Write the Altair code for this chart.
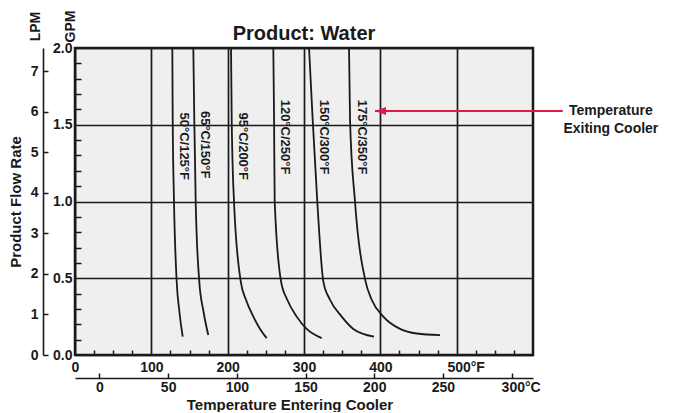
import altair as alt
import numpy as np
import pandas as pd

# ---------------- data ----------------
title_text = "Product: Water"
curve_labels = ["50°C/125°F", "65°C/150°F", "95°C/200°F",
                "120°C/250°F", "150°C/300°F", "175°C/350°F"]
# temperature entering cooler (°F) along each curve
curve_F = [
    [127.5, 128.0, 129.7, 133.2, 136.6, 141.1],
    [155.0, 156.3, 158.1, 162.8, 168.1, 174.6],
    [204.4, 205.3, 208.3, 217.1, 224.0, 233.6, 242.4, 251.1],
    [259.8, 260.8, 261.6, 269.9, 278.1, 290.4, 303.5, 323.2],
    [306.6, 311.4, 317.4, 325.3, 334.1, 349.4, 364.6, 391.7],
    [359.0, 360.3, 366.8, 380.6, 388.7, 403.9, 425.8, 447.7, 478.2],
]
# product flow rate (GPM) along each curve
curve_gpm = [
    [2.0, 1.53, 1.0, 0.48, 0.29, 0.12],
    [2.0, 1.53, 1.0, 0.48, 0.29, 0.13],
    [2.0, 1.53, 1.0, 0.48, 0.36, 0.25, 0.17, 0.11],
    [2.0, 1.53, 1.0, 0.48, 0.36, 0.25, 0.17, 0.11],
    [2.0, 1.53, 1.0, 0.48, 0.36, 0.25, 0.17, 0.12],
    [2.0, 1.53, 1.0, 0.48, 0.36, 0.25, 0.17, 0.14, 0.13],
]
label_gpm = [1.36, 1.37, 1.36, 1.42, 1.42, 1.42]

F_ticks = [0, 100, 200, 300, 400, 500]
F_minor = [25, 50, 75, 125, 150, 175, 225, 250, 275, 325, 350, 375,
           425, 450, 475, 525, 550, 575]
C_ticks = [0, 50, 100, 150, 200, 250, 300]
GPM_ticks = [0.0, 0.5, 1.0, 1.5, 2.0]
GPM_minor = [0.1, 0.2, 0.3, 0.4, 0.6, 0.7, 0.8, 0.9, 1.1, 1.2, 1.3, 1.4,
             1.6, 1.7, 1.8, 1.9]
LPM_ticks = [0, 1, 2, 3, 4, 5, 6, 7]
LPM_PER_GPM = 3.78541

arrow_tip_F = 393
arrow_tail_F = 639
arrow_gpm = 1.59
note_F = 702
note_lines = ["Temperature", "Exiting Cooler"]

# ---------------- tables ----------------
rows = []
for name, fs, gs in zip(curve_labels, curve_F, curve_gpm):
    for i, (f, g) in enumerate(zip(fs, gs)):
        rows.append({"series": name, "F": f, "G": g, "ord": i})
curves = pd.DataFrame(rows)

labels = pd.DataFrame({
    "text": curve_labels,
    "G": label_gpm,
    "F": [float(np.interp(g, gs[::-1], fs[::-1]))
          for g, fs, gs in zip(label_gpm, curve_F, curve_gpm)],
})
arrow = pd.DataFrame({"tip": [arrow_tip_F], "tail": [arrow_tail_F], "G": [arrow_gpm]})
note = pd.DataFrame({"F": [note_F], "G": [arrow_gpm]})
title_df = pd.DataFrame({"t": [title_text]})

C_in_F = [c * 1.8 + 32 for c in C_ticks]
LPM_in_gpm = [l / LPM_PER_GPM for l in LPM_ticks]

W, H = 458, 307
FONT = "Liberation Sans"
INK = "#1a1a1a"
RED = "#e3174a"

xs = alt.Scale(domain=[0, 600], nice=False, zero=False)
ys = alt.Scale(domain=[0, 2], nice=False, zero=False)

axis_F = alt.Axis(values=F_ticks, grid=True, ticks=False, domain=False,
                  labelPadding=5, labelFlush=False, title=None,
                  labelExpr="datum.label + (datum.value == 500 ? '°F' : '')",
                  labelOffset={"condition": {"test": "datum.value == 500", "value": 9}, "value": 0})
axis_F_minor = alt.Axis(orient="top", offset=-H, values=F_minor, ticks=True, tickSize=5,
                        labels=False, domain=False, grid=False, title=None)
axis_C_labels = alt.Axis(orient="bottom", offset=23, values=C_in_F, ticks=False, domain=False,
                         grid=False, labelPadding=2.5, labelFlush=False,
                         labelExpr="format((datum.value-32)/1.8, '.0f') + (datum.value > 570 ? '°C' : '')",
                         labelOffset={"condition": {"test": "datum.value > 570", "value": 9}, "value": 0},
                         title="Temperature Entering Cooler", titleX=214.5, titleY=31.7,
                         titleAlign="center", titleBaseline="alphabetic", titleFontSize=15)
axis_C_line = alt.Axis(orient="top", offset=-(H + 23), values=C_in_F, ticks=True, tickSize=5,
                       labels=False, domain=True, grid=False, title=None)

axis_GPM = alt.Axis(orient="left", values=GPM_ticks, format=".1f", grid=True, ticks=False,
                    domain=False, labelPadding=3, labelFlush=False,
                    title="GPM", titleAngle=270, titleX=-5, titleY=-22,
                    titleAlign="center", titleBaseline="middle", titleFontSize=14)
axis_GPM_minor = alt.Axis(orient="right", offset=-W, values=GPM_minor, ticks=True, tickSize=6,
                          labels=False, domain=False, grid=False, title=None)
axis_LPM_labels = alt.Axis(orient="left", offset=32, values=LPM_in_gpm, ticks=False, domain=False,
                           grid=False, labelPadding=5, labelFlush=False,
                           labelExpr="format(datum.value*3.78541, '.0f')",
                           title="LPM", titleAngle=270, titleX=-8, titleY=-22,
                           titleAlign="center", titleBaseline="middle", titleFontSize=14)
axis_LPM_line = alt.Axis(orient="right", offset=-(W + 32), values=LPM_in_gpm, ticks=True, tickSize=5,
                         labels=False, domain=True, grid=False,
                         title="Product Flow Rate", titleAngle=270, titleX=-28, titleY=H / 2,
                         titleAlign="center", titleBaseline="middle", titleFontSize=15)

lines = alt.Chart(curves).mark_line(interpolate="monotone", color=INK, strokeWidth=1.8).encode(
    x=alt.X("F:Q", scale=xs, axis=axis_F),
    y=alt.Y("G:Q", scale=ys, axis=axis_GPM),
    detail="series:N",
    order="ord:Q",
)

texts = alt.Chart(labels).mark_text(angle=90, align="center", baseline="middle", dy=-10.5,
                                    fontSize=13, fontWeight="bold", font=FONT, color=INK).encode(
    x=alt.X("F:Q", scale=xs, axis=axis_F_minor),
    y=alt.Y("G:Q", scale=ys, axis=axis_GPM_minor),
    text="text:N",
)

arrow_line = alt.Chart(arrow).mark_rule(color=RED, strokeWidth=2).encode(
    x=alt.X("tip:Q", scale=xs, axis=axis_C_labels),
    x2="tail:Q",
    y=alt.Y("G:Q", scale=ys, axis=axis_LPM_labels),
)

arrow_head = alt.Chart(arrow).mark_point(shape="M0,0L1,-0.36L1,0.36Z", size=484, filled=True,
                                         color=RED, opacity=1).encode(
    x=alt.X("tip:Q", scale=xs, axis=axis_C_line),
    y=alt.Y("G:Q", scale=ys, axis=axis_LPM_line),
)

note_text = alt.Chart(note).mark_text(text=note_lines, align="center", baseline="alphabetic", dy=4.5,
                                      lineHeight=17.5, fontSize=14, fontWeight="bold",
                                      font=FONT, color=INK).encode(
    x=alt.X("F:Q", scale=xs, axis=None),
    y=alt.Y("G:Q", scale=ys, axis=None),
)

title_mark = alt.Chart(title_df).mark_text(align="center", baseline="alphabetic", fontSize=20,
                                           fontWeight="bold", font=FONT, color=INK).encode(
    x=alt.value(W / 2),
    y=alt.value(-8),
    text="t:N",
)

chart = alt.layer(lines, texts, arrow_line, arrow_head, note_text, title_mark).resolve_axis(
    x="independent", y="independent"
).properties(
    width=W, height=H,
    autosize=alt.AutoSizeParams(type="none"),
    padding={"left": 67, "top": 40, "right": 137, "bottom": 57},
).configure(background="white").configure_view(
    fill="#efefef", stroke=INK, strokeWidth=2.5
).configure_axis(
    labelFont=FONT, labelFontSize=14, labelFontWeight="bold", labelColor=INK,
    labelOverlap=False,
    titleFont=FONT, titleFontWeight="bold", titleColor=INK,
    gridColor=INK, gridWidth=1.7, gridOpacity=1,
    tickColor=INK, tickWidth=1.5, domainColor=INK, domainWidth=1.6,
)

chart.save("out.html", embed_options={"renderer": "svg", "actions": False})
